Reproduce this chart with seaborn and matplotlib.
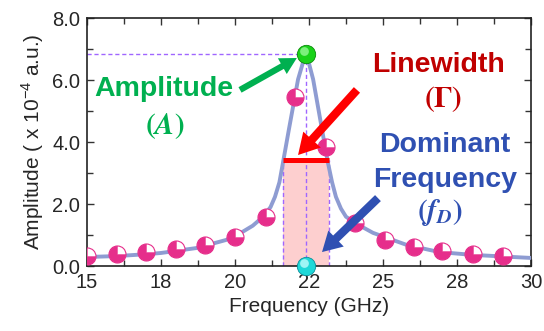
import numpy as np
import pandas as pd
import matplotlib
matplotlib.use("Agg")
import matplotlib.pyplot as plt
from matplotlib.path import Path
from matplotlib.ticker import MultipleLocator, FixedLocator
import seaborn as sns

# ---------------- data ----------------
meas_freq = [15, 16, 17, 18, 19, 20, 21.05, 22.03, 23.07, 24.05, 25.07, 26.05, 27.0, 28.04, 29.05]
meas_amp = [0.33, 0.39, 0.45, 0.55, 0.68, 0.94, 1.59, 5.44, 3.85, 1.39, 0.84, 0.61, 0.49, 0.39, 0.32]

fit_freq = [15.0, 16.0, 17.0, 17.5, 18.7, 19.7, 20.2, 20.6, 20.95, 21.2, 21.35, 21.5, 21.62, 21.82,
            22.13, 22.40, 22.64, 22.94, 23.14, 23.28, 23.41, 23.58, 23.75, 24.05, 24.66, 25.8, 26.9,
            28.0, 30.0]
fit_amp = [0.29, 0.32, 0.38, 0.42, 0.58, 0.84, 1.07, 1.30, 1.59, 1.90, 2.23, 2.70, 3.33, 4.40,
           6.02, 6.90, 6.02, 4.40, 3.33, 2.70, 2.23, 1.85, 1.59, 1.39, 1.07, 0.68, 0.45,
           0.36, 0.26]

peak_freq = 22.4      # dominant frequency f_D
peak_amp = 6.85       # amplitude A
half_amp = 3.43       # half maximum
lw_low, lw_high = 21.62, 23.18   # linewidth edges

x_ticks = [15, 17.5, 20, 22.5, 25, 27.5, 30]
x_tick_labels = ["15", "18", "20", "22", "25", "28", "30"]
y_ticks = [0, 2, 4, 6, 8]
y_tick_labels = ["0.0", "2.0", "4.0", "6.0", "8.0"]

# ---------------- style ----------------
sns.set_theme(style="ticks")
plt.rcParams["font.family"] = ["Liberation Sans", "DejaVu Sans"]

fig = plt.figure(figsize=(5.44, 3.31), dpi=100)
ax = fig.add_axes([87 / 544, 1 - 266 / 331, (531 - 87) / 544, (266 - 18) / 331])

pink = "#e62e8b"
curve_col = "#8e9cd2"
dash_col = "#a066ff"
green = "#00b050"
red_txt = "#c00000"
blue = "#2f50b2"

# shaded linewidth region
ax.fill_between([lw_low, lw_high], [0, 0], [half_amp, half_amp], color="#fdcfcf", zorder=1, lw=0)

# dashed guides
ax.plot([15, peak_freq], [peak_amp, peak_amp], ls=(0, (3, 2)), color=dash_col, lw=1.0, zorder=2)
ax.plot([peak_freq, peak_freq], [0, peak_amp], ls=(0, (3, 2)), color=dash_col, lw=1.0, zorder=2)
ax.plot([lw_low, lw_low], [0, half_amp], ls=(0, (3, 2)), color=dash_col, lw=1.0, zorder=2)
ax.plot([lw_high, lw_high], [0, half_amp], ls=(0, (3, 2)), color=dash_col, lw=1.0, zorder=2)

# fit curve
fit_df = pd.DataFrame({"f": fit_freq, "a": fit_amp})
sns.lineplot(data=fit_df, x="f", y="a", ax=ax, color=curve_col, lw=2.8, zorder=3,
             estimator=None, sort=False)

# red linewidth bar
ax.plot([lw_low, lw_high], [half_amp, half_amp], color="#ff0000", lw=3.6, zorder=4,
        solid_capstyle="butt")

# measured points: pink circle with white quarter
meas_df = pd.DataFrame({"f": meas_freq, "a": meas_amp})
sns.scatterplot(data=meas_df, x="f", y="a", ax=ax, marker="o", s=150, color="white",
                edgecolor=pink, linewidth=0.8, zorder=5)
wedge = Path.wedge(90, 360)
sns.scatterplot(data=meas_df, x="f", y="a", ax=ax, marker=wedge, s=150, color=pink,
                edgecolor=pink, linewidth=0.3, zorder=6)

# peak balls
ax.scatter([peak_freq], [peak_amp], s=175, color="#19d219", edgecolor="#0a8a0a", linewidth=0.6,
           zorder=8, clip_on=False)
ax.scatter([peak_freq - 0.08], [peak_amp + 0.1], s=40, color="#7cf07c", linewidth=0,
           zorder=9, clip_on=False)
ax.scatter([peak_freq], [0], s=175, color="#1ed8d8", edgecolor="#0b8f9a", linewidth=0.6,
           zorder=8, clip_on=False)
ax.scatter([peak_freq - 0.08], [0.1], s=40, color="#9ff5f5", linewidth=0,
           zorder=9, clip_on=False)

# arrows
def arrow(tail, tip, color, tw, hw, hl):
    ax.annotate("", xy=tip, xytext=tail,
                arrowprops=dict(arrowstyle=f"simple,head_length={hl},head_width={hw},tail_width={tw}",
                                color=color, shrinkA=0, shrinkB=0, mutation_scale=1, lw=0),
                zorder=7)

arrow((20.17, 5.68), (22.09, 6.71), green, 4.5, 13, 12)
arrow((24.12, 5.68), (22.13, 3.58), "#ff0000", 6, 17, 15)
arrow((24.83, 2.19), (22.94, 0.45), blue, 6, 16, 14)

# annotation texts
bold = dict(fontsize=20.5, fontweight="bold", ha="center")
ax.text(17.60, 5.48, "Amplitude", color=green, va="baseline", **bold)
ax.text(17.64, 4.5, r"$\mathbf{(}\boldsymbol{A}\mathbf{)}$", color=green, va="center",
        math_fontfamily="stix", fontsize=21, ha="center")
ax.text(26.89, 6.26, "Linewidth", color=red_txt, va="baseline", **bold)
ax.text(27.03, 5.4, r"$\mathbf{(\Gamma)}$", color=red_txt, va="center",
        math_fontfamily="stix", fontsize=21, ha="center")
ax.text(27.09, 3.68, "Dominant", color=blue, va="baseline", **bold)
ax.text(27.09, 2.55, "Frequency", color=blue, va="baseline", **bold)
ax.text(26.93, 1.72, r"$\mathbf{(}\boldsymbol{f}_{\boldsymbol{D}}\mathbf{)}$", color=blue,
        va="center", math_fontfamily="stix", fontsize=21, ha="center")

# axes
ax.set_xlim(15, 30)
ax.set_ylim(0, 8)
ax.xaxis.set_major_locator(FixedLocator(x_ticks))
ax.set_xticklabels(x_tick_labels)
ax.yaxis.set_major_locator(FixedLocator(y_ticks))
ax.set_yticklabels(y_tick_labels)
ax.xaxis.set_minor_locator(MultipleLocator(1.25))
ax.yaxis.set_minor_locator(MultipleLocator(1.0))
ax.tick_params(which="both", direction="in", top=True, right=True, width=1.0, color="#333333")
ax.tick_params(which="major", length=5, labelsize=14.5, pad=5)
ax.tick_params(which="minor", length=4)
for s in ax.spines.values():
    s.set_linewidth(1.2)
    s.set_color("#222222")

ax.set_xlabel("Frequency (GHz)", fontsize=15, labelpad=4)
ax.set_ylabel(r"Amplitude ( x 10$^{\mathregular{-4}}$ a.u.)", fontsize=15, labelpad=4)

fig.savefig("out.png", dpi=100)
